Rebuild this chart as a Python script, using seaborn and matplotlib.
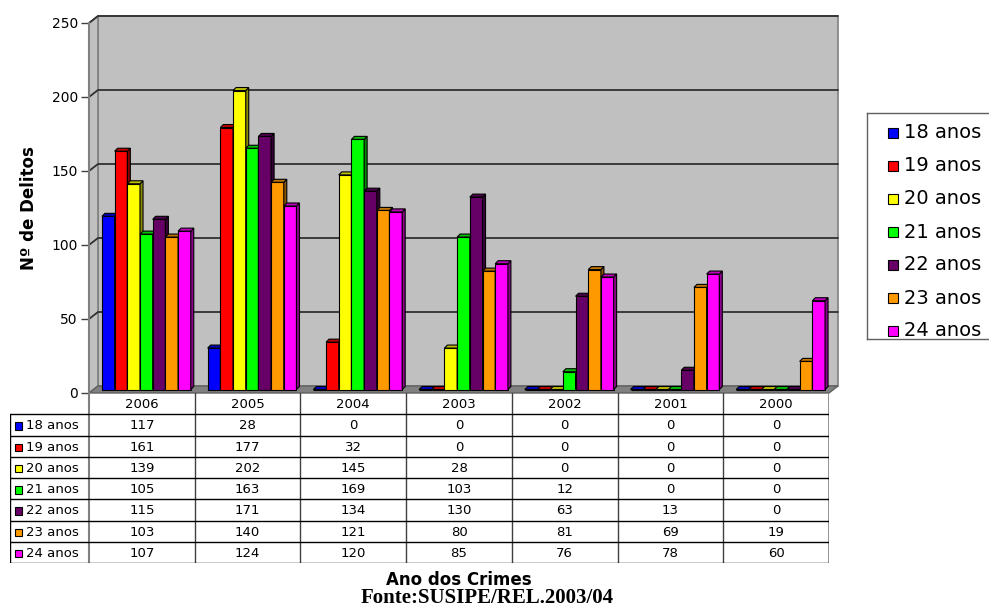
import numpy as np
import pandas as pd
import seaborn as sns
import matplotlib.pyplot as plt
from matplotlib.patches import Polygon, Rectangle
from matplotlib.colors import to_rgb

anos = ['2006', '2005', '2004', '2003', '2002', '2001', '2000']
idades = ['18 anos', '19 anos', '20 anos', '21 anos', '22 anos', '23 anos', '24 anos']
d18 = [117, 28, 0, 0, 0, 0, 0]
d19 = [161, 177, 32, 0, 0, 0, 0]
d20 = [139, 202, 145, 28, 0, 0, 0]
d21 = [105, 163, 169, 103, 12, 0, 0]
d22 = [115, 171, 134, 130, 63, 13, 0]
d23 = [103, 140, 121, 80, 81, 69, 19]
d24 = [107, 124, 120, 85, 76, 78, 60]
cores = ['#0000FF', '#FF0000', '#FFFF00', '#00FF00', '#660066', '#FF9900', '#FF00FF']

series = [d18, d19, d20, d21, d22, d23, d24]
df = pd.DataFrame([(a, idades[i], series[i][j]) for i in range(7) for j, a in enumerate(anos)],
                  columns=['ano', 'idade', 'delitos'])

sns.set_theme(style='white')
plt.rcParams['font.family'] = ['DejaVu Sans']
plt.rcParams.update({'text.color': 'black', 'axes.labelcolor': 'black',
                     'xtick.color': 'black', 'ytick.color': 'black'})

W, H = 989, 607
fig = plt.figure(figsize=(W / 100, H / 100), dpi=100)
fig.patch.set_facecolor('white')

# main axes: front plane of the 3D box
x_l, x_r, y_t, y_b = 89, 829, 23, 393
ax = fig.add_axes([x_l / W, 1 - y_b / H, (x_r - x_l) / W, (y_b - y_t) / H])
ax.set_xlim(-0.5, 6.5)
ax.set_ylim(0, 250)
ax.patch.set_visible(False)

upx = 7 / (x_r - x_l)       # category units per pixel
vpx = 250 / (y_b - y_t)     # value units per pixel
dx, dy = 9 * upx, 7 * vpx    # depth of the box
x0, x1 = -0.5, 6.5

# walls and floor
ax.add_patch(Rectangle((x0 + dx, dy), x1 - x0, 250, facecolor='#C0C0C0',
                       edgecolor='#808080', lw=1.2, zorder=0, clip_on=False))
ax.add_patch(Polygon([(x0, 0), (x0 + dx, dy), (x0 + dx, 250 + dy), (x0, 250)],
                     facecolor='#C0C0C0', edgecolor='#808080', lw=1.2, zorder=0.5, clip_on=False))
ax.add_patch(Polygon([(x0, 0), (x1, 0), (x1 + dx, dy), (x0 + dx, dy)],
                     facecolor='#808080', edgecolor='#606060', lw=1, zorder=0.6, clip_on=False))
for v in range(50, 251, 50):
    ax.plot([x0, x0 + dx, x1 + dx], [v, v + dy, v + dy], color='#303030', lw=1.3,
            zorder=0.7, clip_on=False)

sns.barplot(data=df, x='ano', y='delitos', hue='idade', palette=cores, width=0.84,
            edgecolor='black', linewidth=0.8, saturation=1, ax=ax, legend=False)

bd, bdy = 3 * upx, 3 * vpx
for i, cont in enumerate(ax.containers):
    c = np.array(to_rgb(cores[i]))
    for p in cont.patches:
        x, w, h = p.get_x() + dx / 2, p.get_width(), p.get_height()
        y0 = dy / 2
        p.set_x(x)
        p.set_y(y0)
        z = 3 + i * 0.1
        p.set_zorder(z)
        p.set_clip_on(False)
        ax.add_patch(Polygon([(x + w, y0), (x + w + bd, y0 + bdy), (x + w + bd, y0 + h + bdy), (x + w, y0 + h)],
                             facecolor=c * 0.55, edgecolor='black', lw=0.8, zorder=z + 0.01, clip_on=False))
        ax.add_patch(Polygon([(x, y0 + h), (x + bd, y0 + h + bdy), (x + w + bd, y0 + h + bdy), (x + w, y0 + h)],
                             facecolor=c * 0.75, edgecolor='black', lw=0.8, zorder=z + 0.02, clip_on=False))

ax.set_yticks(range(0, 251, 50))
ax.set_xticks([])
ax.set_xlabel('')
ax.set_ylabel('Nº de Delitos', fontsize=12, fontweight='bold', labelpad=10)
ax.tick_params(axis='y', direction='out', length=6, width=1, color='#404040',
               labelsize=10, pad=2, left=True)
for s in ['top', 'right', 'bottom']:
    ax.spines[s].set_visible(False)
ax.spines['left'].set_color('#808080')
ax.spines['left'].set_linewidth(1.5)
ax.spines['left'].set_zorder(1)

# data table
lab_w = (x_l - 10) * upx
tab = fig.add_axes([10 / W, 1 - 563 / H, (x_r - 10) / W, (563 - y_b) / H])
tab.set_xlim(x0 - lab_w, x1)
tab.set_ylim(8, 0)
tab.axis('off')

tab.plot([x0, x0], [0, 8], color='#808080', lw=1.5)
tab.plot([x1, x1], [0, 8], color='#808080', lw=1.2)
for j in range(1, 7):
    tab.plot([x0 + j, x0 + j], [0, 8], color='#404040', lw=1)
tab.plot([x0 - lab_w, x0 - lab_w], [1, 8], color='black', lw=1)
for r in range(1, 9):
    tab.plot([x0 - lab_w, x1], [r, r], color='black', lw=1)
for j, a in enumerate(anos):
    tab.text(j, 0.55, a, ha='center', va='center', fontsize=9.5)
for i, lab in enumerate(idades):
    yy = i + 1.55
    tab.add_patch(Rectangle((x0 - lab_w + 5 * upx, yy - 0.17), 7 * upx, 0.36,
                            facecolor=cores[i], edgecolor='black', lw=0.8))
    tab.text(x0 - lab_w + 16 * upx, yy, lab, ha='left', va='center', fontsize=9.5)
    for j, v in enumerate(series[i]):
        tab.text(j, yy, str(v), ha='center', va='center', fontsize=9.5)

# legend
lg = fig.add_axes([867 / W, 1 - 339 / H, 130 / W, (339 - 113) / H])
lg.set_xlim(0, 130)
lg.set_ylim(339 - 113, 0)
lg.set_xticks([])
lg.set_yticks([])
for s in lg.spines.values():
    s.set_color('#606060')
    s.set_linewidth(1)
for i, lab in enumerate(idades):
    yy = 20 + i * 33
    lg.add_patch(Rectangle((21, yy - 5), 10, 10, facecolor=cores[i], edgecolor='black', lw=0.8))
    lg.text(37, yy, lab, ha='left', va='center', fontsize=14)

fig.text(459 / W, 1 - 580 / H, 'Ano dos Crimes', ha='center', va='center',
         fontsize=12, fontweight='bold')
fig.text(487 / W, 1 - 598 / H, 'Fonte:SUSIPE/REL.2003/04', ha='center', va='center',
         fontsize=15, fontweight='bold', family=['Liberation Serif'])

fig.savefig('out.png', dpi=100)
